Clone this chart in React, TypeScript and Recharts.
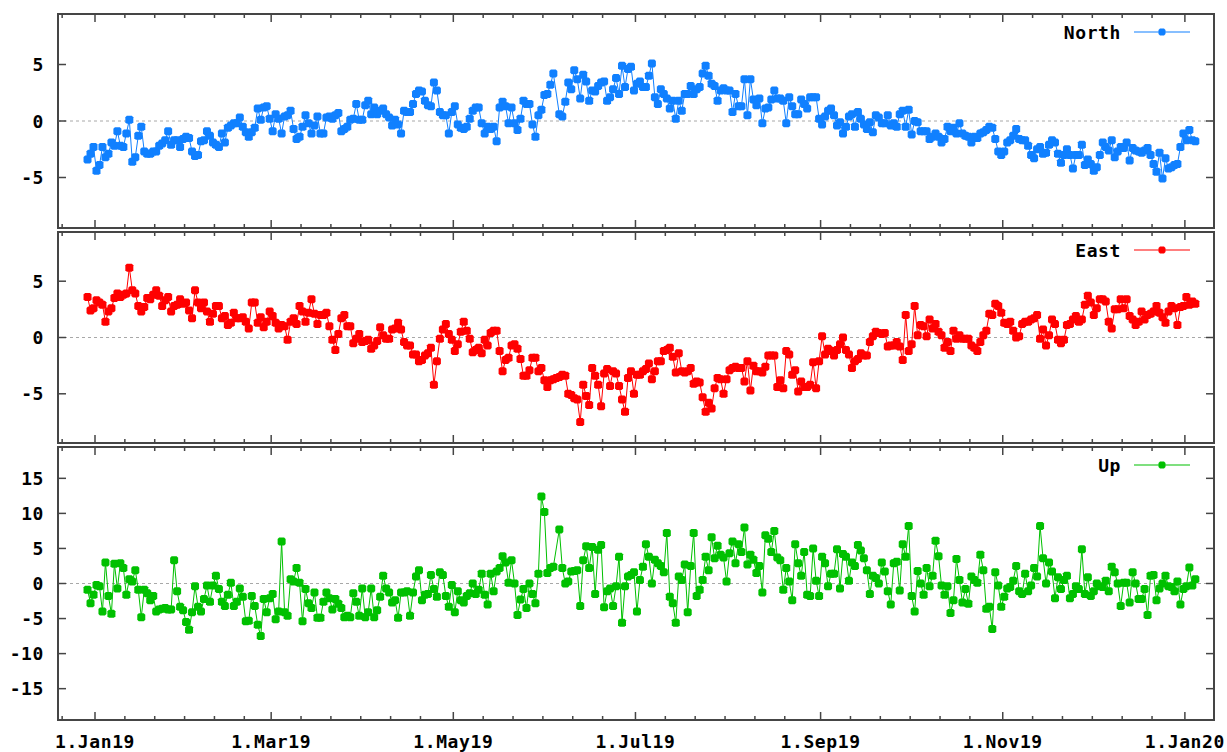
import { LineChart, Line, XAxis, YAxis, ReferenceLine, ReferenceArea } from "recharts"

// daily solutions, first one on 29 Dec 2018 at noon (days counted from 1 Jan 2019)
const START_DAY = -2.5

const north = [
  -3.4, -2.9, -2.3, -4.4, -3.9, -2.3, -3.2, -2.9, -1.9, -2.2,
  -0.9, -2.2, -2.3, -1.1, 0.1, -3.6, -3.2, -1.3, -0.5, -2.7,
  -2.9, -2.9, -2.7, -2.7, -2.2, -2.0, -1.7, -0.9, -2.1, -1.7,
  -1.7, -2.3, -1.6, -1.4, -1.5, -2.7, -3.1, -3.0, -1.8, -1.7,
  -0.9, -1.3, -1.9, -2.1, -2.3, -1.1, -1.9, -0.6, -0.4, -0.2,
  -0.2, 0.3, -0.5, -1.0, -1.4, -1.0, -0.6, 1.1, 0.1, 1.2,
  1.3, 0.2, -0.9, 0.6, 0.2, -1.1, 0.4, 0.5, 0.9, -0.7,
  -1.6, -1.4, -0.5, 0.5, -0.2, -1.1, -0.4, 0.4, -1.1, -1.1,
  0.3, 0.4, 0.2, 0.5, 0.7, -0.9, -0.7, -0.5, 0.1, 0.2,
  1.5, 0.1, 0.1, 1.4, 1.8, 0.6, 1.2, 0.6, 0.9, 1.1,
  0.6, 0.3, -0.4, 0.1, -0.3, -1.1, 0.9, 0.8, 0.8, 1.5,
  2.4,
  2.7, 2.6, 1.8, 1.4, 1.3, 3.4, 2.7, 0.8, 0.5, 0.5,
  -1.1, 0.8, 1.3, -0.3, -0.6, -0.7, -0.5, 0.2, 0.9, 1.2,
  1.2, -0.2, -1.1, -0.5, -0.7, -0.5, -1.8, 1.2, 1.7, 1.3,
  -0.2, 1.2, -0.2, -0.8, 0.2, 1.8, 1.5, 1.5, -0.3, -1.4,
  0.5, 1.0, 2.3, 2.4, 3.2, 4.2,
  null,
  0.6, 0.4, 1.7, 3.4, 2.8, 4.5, 3.7, 2.0, 4.1, 3.5,
  1.8, 2.7, 2.6, 3.1, 3.4, 3.5, 1.8, 2.1, 2.8, 3.8,
  2.4, 4.9, 3.0, 4.6, 4.8, 2.7, 3.3, 3.5, 3.0, 3.0,
  4.0, 5.1, 2.1, 1.5, 2.8, 2.4, 2.0, 1.1, 1.8, 0.2,
  1.8, 0.9, 2.4, 2.4, 3.1, 2.4, 2.8, 3.0, 4.2, 4.9,
  4.0, 3.3, 3.1, 1.8, 2.7, 2.9, 2.7, 2.7, 0.8, 2.4,
  1.3, 1.3, 3.7, 0.5, 3.7, 1.9, 1.4, 2.0, -0.2, 1.1,
  1.2, 1.9, 2.7, 2.0, 2.0, 1.8, -0.2, 2.1, 1.3, 0.6,
  0.6, 1.9, 1.5, 1.1, 2.1, 2.1, 2.1,
  0.2, -0.3, 0.4, 0.9, 1.1, 0.5, -0.4, -0.1, -1.1, -0.5,
  0.4, 0.6, -0.5, 0.8, 0.2, -0.3, -0.7, -0.1, -1.0, 0.5,
  0.3, -0.2, -0.2, 0.5, -0.4, -0.2, -0.5, 0.6, 0.9, -0.5,
  1.0, -1.2, 0.0, -0.1, -0.9, -0.9, -0.9, -1.6, -1.4, -1.1,
  -1.4, -1.9, -1.6, -0.5, -0.9, -0.6, -1.1, -0.2, -1.1, -1.3,
  -1.4, -1.9, -1.4, -1.5, -1.1, -1.0, -0.8, -0.5, -0.6, -1.6,
  -2.7, -3.0, -2.7, -1.9, -1.7, -1.3, -0.7, -1.6, -1.7, -1.7,
  -2.2, -3.0, -3.3, -2.5, -2.3, -2.9, -2.8, -2.1, -1.7, -1.9,
  -2.9, -3.7, -3.0, -2.5, -3.0, -4.2, -3.0, -3.0, -2.1, -3.9,
  -3.4, -3.8, -4.4, -4.1, -3.0, -1.9, -2.3, -2.6, -1.7, -3.2,
  -2.7, -2.3, -2.4, -1.9, -3.5, -2.4, -2.6, -2.7, -2.8, -2.6,
  -2.4, -3.0, -3.8, -4.5, -2.8, -5.1, -3.3, -4.2, -4.1, -3.9,
  -3.8, -2.3, -1.1, -1.7, -0.8, -1.7, -1.8,
]

const east = [
  3.6, 2.4, 2.6, 3.3, 3.1, 2.9, 1.4, 2.3, 2.6, 3.5,
  3.9, 3.6, 3.8, 3.9, 6.2, 4.2, 3.9, 2.8, 2.3, 2.7,
  3.5, 3.4, 3.8, 4.2, 3.7, 2.8, 3.3, 3.6, 2.3, 2.8,
  2.9, 3.4, 3.0, 3.1, 2.4, 1.7, 4.2, 3.1, 2.6, 3.1,
  2.3, 1.4, 2.1, 2.8, 2.8, 1.7, 1.9, 1.1, 1.3, 2.2,
  1.7, 1.7, 1.8, 1.4, 0.8, 3.1, 3.1, 1.3, 1.8, 0.9,
  1.4, 2.3, 1.9, 1.3, 0.8, 1.1, 1.0, -0.2, 1.4, 1.7,
  1.2, 2.8, 2.3, 1.4, 2.2, 3.4, 2.1, 1.2, 2.0, 2.0,
  2.2, 1.0, -0.2, -1.1, 0.3, 1.7, 2.0, 1.0, 1.0, -0.5,
  -0.1, 0.3, -0.4, -0.3, -0.2, -1.0, -0.7, -0.3, 0.9, 0.2,
  -0.1, -0.1, 0.7, 0.8, 1.3, 0.7, -0.4, -0.7, -0.7, -1.5,
  -1.5,
  -2.1, -2.0, -1.6, -1.4, -0.9, -4.2, -2.1, -0.1, 0.7, 1.2,
  0.3, -0.2, -1.2, -0.6, 0.5, 1.4, 0.6, -0.1, -1.3, -1.1,
  -0.9, -1.4, -0.2, -0.7, 0.4, 0.6, 0.6, -1.2, -3.0, -2.0,
  -1.8, -0.7, -0.6, -1.0, -1.9, -3.4, -3.4, -2.9, -1.8, -1.8,
  -3.0, -2.7, -3.8, -4.4, -3.8, -3.7, -3.6, -3.5, -3.3, -3.4,
  -5.0, -5.1, -5.4, -5.5, -7.5, -4.2, -5.2, -6.0, -2.7, -3.4,
  -4.2, -6.1, -3.2, -2.8, -4.3, -3.0, -3.2, -4.3, -5.5, -6.6,
  -3.6, -3.0, -5.0, -3.3, -3.3, -3.0, -2.8, -2.3, -3.7, -3.0,
  -2.1, -2.1, -1.2, -1.1, -0.9, -1.7, -3.1, -1.4, -3.0, -3.1,
  -3.0, -2.7, -4.1, -3.9, -4.0, -5.3, -6.6, -5.8, -6.3, -4.5,
  -3.6, -3.7, -5.0, -3.7, -2.9, -2.7, -2.6, -2.7, -2.7, -3.9,
  -2.1, -4.7, -2.5, -3.0, -3.0, -3.1, -2.6, -1.6, -1.6, -1.6,
  -4.4, -3.8, -4.5, -1.2, -1.5, -3.3, -2.9, -4.8, -3.9, -4.4,
  -4.4, -4.2, -2.2, -4.5,
  -2.1, 0.1, -1.5, -1.0, -1.2, -1.6, -1.1, -0.6, 0.0, -1.1,
  -1.5, -2.7, -2.1, -1.9, -1.4, -1.6, -1.6, -0.4, 0.1, 0.5,
  0.4, 0.3, 0.4, -0.8, -0.7, -0.7, -0.4, -0.8, -2.0, 2.0,
  -1.2, -0.6, 2.8, 0.2, 1.1, 1.0, 0.1, 1.6, 0.8, 1.2,
  0.5, 0.2, -0.9, -0.4, -1.2, 0.6, -0.1, 0.2, -0.1, -0.1,
  -0.1, -0.7, -0.9, -1.2, -0.4, 0.2, 0.6, 2.1, 2.0, 3.0,
  2.8, 2.2, 1.3, 1.2, 1.4, 0.6, 0.0, 0.1, 1.2, 1.4,
  1.4, 1.6, 1.7, 2.0, -0.1, 0.7, -0.7, 0.2, 1.6, 1.2,
  -0.2, -0.5, -0.2, 1.1, 1.2, 1.6, 1.9, 1.4, 1.6, 2.9,
  3.7, 3.1, 2.0, 2.6, 3.4, 3.4, 3.2, 1.4, 0.8, 2.5,
  2.5, 3.4, 2.6, 3.4, 1.9, 1.6, 1.1, 1.4, 2.3, 1.6,
  2.0, 2.1, 2.3, 2.8, 2.2, 1.8, 1.3, 2.3, 2.8, 2.6,
  1.1, 2.7, 2.8, 3.6, 2.9, 3.2, 3.0,
]

const up = [
  -0.9, -2.8, -1.6, -0.2, -0.4, -4.0, 3.0, -1.8, -4.3, 2.8,
  -0.7, 2.9, 2.2, -1.6, 0.6, 0.3, 1.9, -0.9, -4.8, -0.9,
  -1.4, -2.4, -1.8, -4.0, -3.7, -3.6, -3.5, -3.7, -3.7, 3.3,
  -1.1, -3.3, -3.8, -5.5, -6.6, -4.1, -0.4, -3.3, -4.0, -2.2,
  -0.3, -2.6, -0.3, 1.1, -0.8, -2.6, -3.2, -1.6, 0.1, -3.2,
  -2.6, -0.7, -1.9, -5.4, -5.3, -1.8, -3.2, -5.9, -7.5, -2.2,
  -4.1, -2.1, -1.5, -5.1, -4.0, 6.0, -4.1, -4.6, 0.6, 0.3,
  2.2, 0.1, -5.4, -0.8, -2.8, -3.5, -1.3, -4.9, -4.9, -2.6,
  -1.3, -2.1, -3.7, -2.2, -2.9, -3.5, -4.8, -4.6, -4.8, -1.4,
  -2.6, -4.6, -0.7, -4.8, -4.1, -0.7, -4.8, -3.8, -1.9, 1.1,
  -0.7, -1.3, -2.7, -2.4, -4.9, -1.3, -1.3, -1.1, -4.6, -1.3,
  1.0,
  1.9, -2.4, -1.6, -1.5, 1.2, -0.8, -1.9, 1.6, 1.2, -1.8,
  -3.3, -0.2, -4.1, -1.1, -2.4, -2.7, -1.8, -1.4, 0.0, -1.5,
  -0.9, 1.4, -1.6, -3.0, 1.4, -1.1, 1.7, 2.2, 3.9, 3.0,
  0.1, 3.3, 0.0, -4.5, -2.3, -0.8, -3.5, 0.0, -1.5, -2.8,
  1.4, 12.4, 10.2, 1.5, 2.2, 2.4,
  null,
  7.7, 2.2, 0.0, 0.3, 1.7, 1.8, 1.9, -3.2, 3.3, 5.3,
  2.2, 5.2, -1.5, 4.8, 5.5, -3.4, -1.1, -0.7, -3.2, -0.4,
  3.8, -5.6, -0.4, 1.0, 1.2, 1.6, -4.0, 0.5, 2.4, 5.6,
  3.8, 0.0, 3.4, 2.9, 2.5, 1.6, 7.2, -1.9, -2.8, -5.6,
  1.0, 0.5, 2.7, -4.1, 2.5, 7.2, -1.8, -0.9, 0.5, 3.8,
  1.9, 6.6, 3.6, 5.4, 4.1, 3.7, 0.3, 4.3, 6.0, 2.9,
  5.6, 4.5, 8.0, 2.7, 4.1, 3.4, 1.5, 2.5, -1.3, 6.9,
  6.4, 4.5, 7.5, 3.7, 3.3, -0.9, 2.2, 0.3, -2.4, 5.6,
  2.9, 1.1, 4.5, -1.6, -1.8, 5.0, 0.4,
  -1.8, 3.8, 2.9, -0.4, 1.4, 1.4, 4.9, -0.7, 4.2, 3.8,
  0.4, 3.0, 2.5, 5.5, 4.7, 3.6, 1.9, -1.5, 1.1, 0.8,
  0.0, 3.0, 1.7, -1.1, -3.0, 2.9, 3.1, -1.0, 5.6, 3.8,
  8.2, -1.8, -4.0, 1.8, 0.0, -1.6, 2.2, -0.4, 1.1, 6.1,
  3.9, -0.3, -1.6, -0.4, -4.2, -2.4, 3.5, 0.5, -2.7, -0.8,
  -2.9, 1.0, 0.5, 0.1, 4.1, 1.9, -3.6, -3.3, -6.5, 1.6,
  -0.3, -3.3, -1.9, -0.7, -0.5, 0.4, 2.5, -1.1, -1.5, 1.4,
  -1.1, -0.3, 2.2, 1.0, 8.2, 3.6, 0.0, 3.0, 1.7, -2.1,
  0.9, -0.8, 0.5, 1.1, -2.1, -1.5, -0.4, -0.8, 4.9, -1.5,
  0.9, -1.8, -1.1, 0.0, -0.4, -0.5, 0.4, -1.1, 2.4, 1.6,
  0.0, -3.2, 0.1, 0.1, -2.7, 1.6, 0.0, -2.2, -2.2, -0.8,
  -4.5, 1.1, 1.2, -2.4, -0.7, 0.0, 1.1, -0.4, -0.5, -1.1,
  0.3, -3.0, -0.8, -0.4, 2.3, -0.3, 0.6,
]

// x axis: days from 1 Jan 2019
const majorDays = [0, 59, 120, 181, 243, 304, 365]
const majorLabels = ["1.Jan19", "1.Mar19", "1.May19", "1.Jul19", "1.Sep19", "1.Nov19", "1.Jan20"]
const X_DOMAIN: [number, number] = [-12.39, 374.75]

const minorDays = [-61, ...majorDays]
  .flatMap((d) => [10, 20, 30, 40, 50].map((k) => d + k))
  .filter((d) => d > X_DOMAIN[0] && d < X_DOMAIN[1])
const xTicks = [...minorDays, ...majorDays].sort((a, b) => a - b)

const rows = north.map((n, i) => ({
  day: START_DAY + i,
  north: n,
  east: east[i],
  up: up[i],
}))

const W = 1227
const LEFT = 58
const RIGHT = 13
const FRAME = "#454545"
const FONT = "'DejaVu Sans Mono', monospace"
const textStyle = { fontFamily: FONT, fontSize: 18, fontWeight: 700, letterSpacing: 0.6, fill: "#000" }

function marker(cx: number, cy: number, color: string, key?: string, a = 4, b = 2.5) {
  const d = `M${cx - b},${cy - a}H${cx + b}L${cx + a},${cy - b}V${cy + b}L${cx + b},${cy + a}H${cx - b}L${cx - a},${cy + b}V${cy - b}Z`
  return <path key={key} d={d} fill={color} />
}

// bottom ticks point up into the plot, mirrored copies hang from the top edge
function makeXTick(plotTop: number, withLabels: boolean) {
  return (props: any) => {
    const { x, y, payload } = props
    const idx = majorDays.indexOf(payload.value)
    const len = idx >= 0 ? 8 : 4
    return (
      <g>
        <line x1={x} x2={x} y1={y} y2={y - len} stroke={FRAME} strokeWidth={1.5} />
        <line x1={x} x2={x} y1={plotTop} y2={plotTop + len} stroke={FRAME} strokeWidth={1.5} />
        {withLabels && idx >= 0 && (
          <text x={x} y={y + 28} textAnchor="middle" style={textStyle}>
            {majorLabels[idx]}
          </text>
        )}
      </g>
    )
  }
}

function makeYTick(plotRight: number) {
  return (props: any) => {
    const { x, y, payload } = props
    return (
      <g>
        <line x1={x} x2={x + 8} y1={y} y2={y} stroke={FRAME} strokeWidth={1.5} />
        <line x1={plotRight} x2={plotRight - 8} y1={y} y2={y} stroke={FRAME} strokeWidth={1.5} />
        <text x={x - 14} y={y + 6.5} textAnchor="end" style={textStyle}>
          {String(payload.value)}
        </text>
      </g>
    )
  }
}

type PanelProps = {
  dataKey: "north" | "east" | "up"
  name: string
  color: string
  top: number
  height: number
  marginTop: number
  marginBottom: number
  yDomain: [number, number]
  yTicks: number[]
  xLabels?: boolean
}

function Panel(p: PanelProps) {
  const legendY = p.marginTop + 18
  return (
    <div style={{ position: "absolute", left: 0, top: p.top, width: W, height: p.height }}>
      <LineChart
        width={W}
        height={p.height}
        data={rows}
        margin={{ top: p.marginTop, right: RIGHT, bottom: p.marginBottom, left: 0 }}
      >
        <XAxis
          dataKey="day"
          type="number"
          domain={X_DOMAIN}
          allowDataOverflow
          ticks={xTicks}
          interval={0}
          height={1}
          tickSize={0}
          tickMargin={0}
          tickLine={false}
          axisLine={false}
          tick={makeXTick(p.marginTop, !!p.xLabels)}
        />
        <YAxis
          type="number"
          domain={p.yDomain}
          allowDataOverflow
          ticks={p.yTicks}
          interval={0}
          width={LEFT}
          tickSize={0}
          tickMargin={0}
          tickLine={false}
          axisLine={false}
          tick={makeYTick(W - RIGHT)}
        />
        <ReferenceLine y={0} stroke="#a8a8a8" strokeDasharray="3 3" />
        <ReferenceArea
          x1={X_DOMAIN[0]}
          x2={X_DOMAIN[1]}
          y1={p.yDomain[0]}
          y2={p.yDomain[1]}
          fill="none"
          fillOpacity={0}
          stroke={FRAME}
          strokeWidth={2}
          strokeOpacity={1}
        />
        <Line
          type="linear"
          dataKey={p.dataKey}
          name={p.name}
          stroke={p.color}
          strokeWidth={1}
          connectNulls
          isAnimationActive={false}
          dot={(props: any) => {
            const { cx, cy, index } = props
            if (cx == null || cy == null) return <g key={`d${index}`} />
            return marker(cx, cy, p.color, `d${index}`)
          }}
          activeDot={false}
        />
      </LineChart>
      <svg
        width={W}
        height={p.height}
        style={{ position: "absolute", left: 0, top: 0, pointerEvents: "none" }}
      >
        <text x={1121} y={legendY + 6.5} textAnchor="end" style={textStyle}>
          {p.name}
        </text>
        <line x1={1134} x2={1190} y1={legendY} y2={legendY} stroke={p.color} strokeWidth={1.2} />
        {marker(1162, legendY, p.color, undefined, 3.5, 2)}
      </svg>
    </div>
  )
}

export default function App() {
  return (
    <div style={{ position: "absolute", left: 0, top: 0, width: W, height: 752, background: "#fff" }}>
      <Panel
        dataKey="north"
        name="North"
        color="#1080ff"
        top={0}
        height={230}
        marginTop={14}
        marginBottom={1}
        yDomain={[-9.47, 9.47]}
        yTicks={[-5, 0, 5]}
      />
      <Panel
        dataKey="east"
        name="East"
        color="#ff0000"
        top={230}
        height={215}
        marginTop={2}
        marginBottom={1}
        yDomain={[-9.37, 9.37]}
        yTicks={[-5, 0, 5]}
      />
      <Panel
        dataKey="up"
        name="Up"
        color="#00c000"
        top={445}
        height={307}
        marginTop={2}
        marginBottom={31}
        yDomain={[-19.47, 19.47]}
        yTicks={[-15, -10, -5, 0, 5, 10, 15]}
        xLabels
      />
    </div>
  )
}
